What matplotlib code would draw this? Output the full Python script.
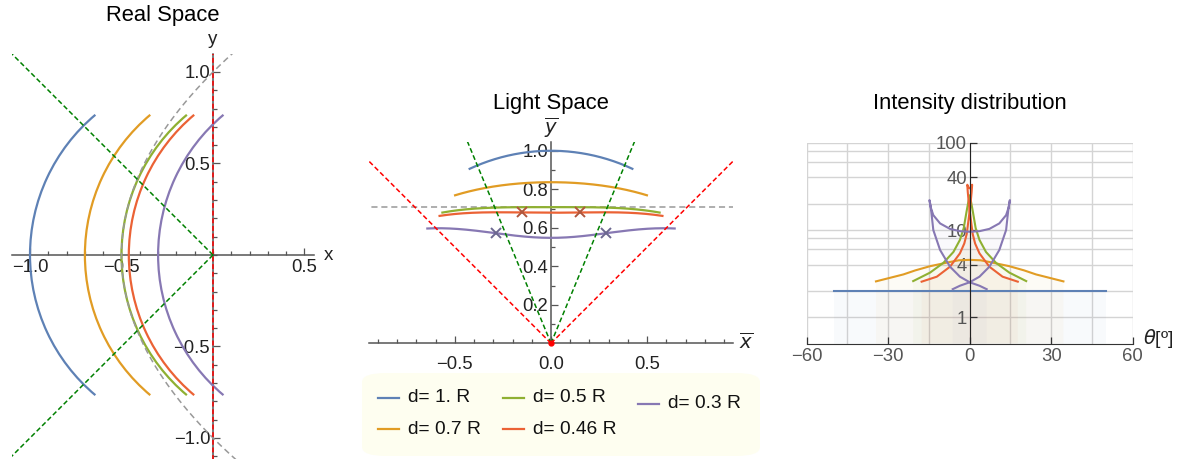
import numpy as np
import matplotlib.pyplot as plt
from matplotlib.patches import Arc, FancyBboxPatch
from matplotlib.lines import Line2D

plt.rcParams['font.family'] = ['Liberation Sans', 'DejaVu Sans']

W, H = 1178, 459

# mirror settings (legend)
d_values = [1.0, 0.7, 0.5, 0.46, 0.3]
labels = ["d= 1. R", "d= 0.7 R", "d= 0.5 R", "d= 0.46 R", "d= 0.3 R"]
colors = ["#5e81b5", "#e19c24", "#8fb032", "#eb6235", "#8778b3"]
R = 1.0
arc_half_deg = 50          # mirror arcs span +-50 deg
focal = 0.5                # gray dashed parabola (focus at origin)
ray_deg = 45               # green dashed rays, angle from -x axis
axis_ray_deg = 90          # red dashed line (the y axis)
mark_phi = {3: 12, 4: 19}  # x marks on light space curves (arc angle, deg)
mark_colors = {3: "#b0563c", 4: "#6c6890"}

# intensity distribution (theta in deg)
blue_theta = [-50, 50]
blue_I = [2.0, 2.0]
orange_half = [(0, 4.55), (4, 4.5), (7.3, 4.3), (14.6, 3.85), (20, 3.45),
               (24.4, 3.1), (30, 2.8), (34.5, 2.58)]
green_half = [(0, 25), (0.5, 21), (1.2, 16), (2.2, 10.5), (3.6, 7.7),
              (6, 5.6), (9.7, 4.2), (14.6, 3.25), (20.8, 2.6)]
red_path_half = [(17.7, 2.56), (12.1, 2.92), (7.25, 3.8), (3.6, 5.4), (2.0, 7.0),
                 (1.1, 9.0), (0.3, 14), (-0.3, 20), (-0.7, 27), (-0.9, 33),
                 (-0.5, 31), (0, 30)]
purple_path_half = [(6.25, 2.1), (3.6, 2.3), (0, 2.52), (-3.6, 2.92), (-7.25, 3.8),
                    (-10.9, 5.9), (-13.4, 10), (-14.2, 16.9), (-14.8, 22),
                    (-14.3, 18), (-13.4, 14.8), (-10.9, 11.9), (-7.25, 10.3),
                    (-3.6, 9.7), (0, 9.55)]
grid_I = [1, 2, 4, 6, 8, 10, 20, 40, 60, 80, 100]


def sym_curve(half):
    left = [(-t, v) for t, v in reversed(half[1:])]
    pts = left + half
    return [p[0] for p in pts], [p[1] for p in pts]


def sym_path(half):
    pts = half + [(-t, v) for t, v in reversed(half[:-1])]
    return [p[0] for p in pts], [p[1] for p in pts]


def to_light(x, y):
    w = 1j * np.sqrt(-(np.asarray(x) + 1j * np.asarray(y)))
    return w.real, w.imag


def arc_points(d, phi_deg):
    phi = np.radians(phi_deg)
    return (R - d) - R * np.cos(phi), R * np.sin(phi)


def px_axes(fig, x0, y0, x1, y1):
    return fig.add_axes([x0 / W, 1 - y1 / H, (x1 - x0) / W, (y1 - y0) / H])


def mma_axes(ax, axcol="#555555"):
    for s in ["top", "right"]:
        ax.spines[s].set_visible(False)
    ax.spines["left"].set_position(("data", 0))
    ax.spines["bottom"].set_position(("data", 0))
    for s in ["left", "bottom"]:
        ax.spines[s].set_color(axcol)
        ax.spines[s].set_linewidth(1.1)
        ax.spines[s].set_zorder(1)
    ax.tick_params(which="both", direction="in", color=axcol, width=0.9)
    ax.tick_params(which="major", length=5, labelsize=13.3, labelcolor="#222222")
    ax.tick_params(which="minor", length=3)
    ax.patch.set_alpha(0)


fig = plt.figure(figsize=(W / 100, H / 100), dpi=100)
phis = np.linspace(-arc_half_deg, arc_half_deg, 301)
ybar = np.linspace(-3, 3, 601)

# ---------------- Real space ----------------
ax1 = px_axes(fig, 11.7, 53.7, 313.65, 459.0)
ax1.set_xlim(-1.1, 0.55)
ax1.set_ylim(-1.115, 1.1)
mma_axes(ax1)
ax1.set_xticks([-1.0, -0.5, 0.5], ["\u22121.0", "\u22120.5", "0.5"])
ax1.set_xticks(np.arange(-1.0, 0.55, 0.1), minor=True)
ax1.set_yticks([-1.0, -0.5, 0.5, 1.0], ["\u22121.0", "\u22120.5", "0.5", "1.0"])
ax1.set_yticks(np.arange(-1.1, 1.1, 0.1), minor=True)
ax1.tick_params(axis="x", pad=3)
ax1.tick_params(axis="y", pad=2)

for d, c in zip(d_values, colors):
    ax1.add_patch(Arc((R - d, 0), 2 * R, 2 * R, theta1=180 - arc_half_deg,
                      theta2=180 + arc_half_deg, color=c, lw=1.6, zorder=3))
ax1.plot(ybar ** 2 / (4 * focal) - focal, ybar, color="#999999", lw=1.1,
         ls=(0, (4, 2.5)), zorder=4)
t = np.radians(ray_deg)
for sgn in [1, -1]:
    ax1.plot([0, -2 * np.cos(t)], [0, sgn * 2 * np.sin(t)], color="#008000",
             lw=1.1, ls=(0, (3.2, 1.8)), zorder=4)
ax1.plot([0, 0], [-1.2, 1.2], color="#ff0000", lw=1.1, ls=(0, (3.2, 1.8)), zorder=4)
fig.text(163 / W, 1 - 15 / H, "Real Space", fontsize=15.8, ha="center", va="center")
fig.text(213 / W, 1 - 39 / H, "y", fontsize=13.5, ha="center", va="center", color="#222222")
fig.text(328 / W, 1 - 256 / H, "x", fontsize=13.5, ha="center", va="center", color="#222222")

# ---------------- Light space ----------------
ax2 = px_axes(fig, 369.1, 141.9, 732.9, 343.3)
ax2.set_xlim(-0.945, 0.945)
ax2.set_ylim(0, 1.046)
mma_axes(ax2)
ax2.set_xticks([-0.5, 0.0, 0.5], ["\u22120.5", "0.0", "0.5"])
ax2.set_xticks(np.arange(-0.9, 0.95, 0.1), minor=True)
ax2.set_yticks([0.2, 0.4, 0.6, 0.8, 1.0], ["0.2", "0.4", "0.6", "0.8", "1.0"])
ax2.set_yticks(np.arange(0.1, 1.05, 0.1), minor=True)
ax2.tick_params(axis="x", pad=9)
ax2.tick_params(axis="y", pad=2)

for i, (d, c) in enumerate(zip(d_values, colors)):
    xs, ys = arc_points(d, phis)
    u, v = to_light(xs, ys)
    ax2.plot(u, v, color=c, lw=1.6, zorder=3)
    if i in mark_phi:
        xm, ym = arc_points(d, np.array([-mark_phi[i], mark_phi[i]]))
        um, vm = to_light(xm, ym)
        ax2.plot(um, vm, ls="none", marker="x", ms=6.5, mew=1.4,
                 color=mark_colors[i], zorder=5)
u, v = to_light(ybar ** 2 / (4 * focal) - focal, ybar)
ax2.plot(u, v, color="#999999", lw=1.1, ls=(0, (4, 2.5)), zorder=2)
for ang, col in [(ray_deg, "#008000"), (axis_ray_deg, "#ff0000")]:
    tt = np.radians(ang)
    for sgn in [1, -1]:
        u, v = to_light([0, -3 * np.cos(tt)], [0, sgn * 3 * np.sin(tt)])
        ax2.plot(u, v, color=col, lw=1.1, ls=(0, (3.2, 1.8)), zorder=4)
ax2.plot([0], [0], "o", color="#ff0000", ms=3.5, clip_on=False, zorder=6)
fig.text(551 / W, 1 - 103 / H, "Light Space", fontsize=15.8, ha="center", va="center")
fig.text(551 / W, 1 - 128 / H, r"$\overline{y}$", fontsize=14, ha="center",
         va="center", color="#222222")
fig.text(746 / W, 1 - 342 / H, r"$\overline{x}$", fontsize=14, ha="center",
         va="center", color="#222222")

# ---------------- Intensity ----------------
ax3 = px_axes(fig, 806.7, 142.7, 1132.7, 343.6)
ax3.set_yscale("log")
ax3.set_xlim(-60, 60)
ax3.set_ylim(0.5, 100)
for s in ["top", "right"]:
    ax3.spines[s].set_visible(False)
ax3.spines["left"].set_position(("data", 0))
ax3.spines["left"].set_color("#222222")
ax3.spines["bottom"].set_color("#333333")
ax3.spines["left"].set_zorder(4)
for gx in range(-60, 61, 15):
    ax3.axvline(gx, color="#d4d4d4", lw=1.0, zorder=0)
for gy in grid_I:
    ax3.axhline(gy, color="#d4d4d4", lw=1.0, zorder=0)
ax3.set_xticks([-60, -30, 0, 30, 60], ["\u221260", "\u221230", "0", "30", "60"])
ax3.set_yticks([1, 4, 10, 40, 100], ["1", "4", "10", "40", "100"])
ax3.yaxis.set_minor_locator(plt.NullLocator())
ax3.tick_params(which="major", direction="in", length=5, width=0.9, color="#333333",
                labelsize=13.3, labelcolor="#555555")
ax3.tick_params(axis="x", pad=3)
ax3.tick_params(axis="y", pad=2)

curves = [(blue_theta, blue_I), sym_curve(orange_half), sym_curve(green_half),
          sym_path(red_path_half), sym_path(purple_path_half)]
for (th, val), c in zip(curves, colors):
    fx = list(th) + [th[-1], th[0]]
    fy = list(val) + [0.5, 0.5]
    ax3.fill(fx, fy, color=c, alpha=0.04, lw=0, zorder=1)
for (th, val), c in zip(curves, colors):
    ax3.plot(th, val, color=c, lw=1.5, zorder=3)
fig.text(970 / W, 1 - 103 / H, "Intensity distribution", fontsize=15.8,
         ha="center", va="center")
fig.text(1143 / W, 1 - 339 / H, r"$\theta$[º]", fontsize=14, ha="left", va="center",
         color="#222222")

# ---------------- Legend ----------------
box = FancyBboxPatch((362 / W, 1 - 456 / H), 398 / W, 83 / H,
                     boxstyle="round,pad=0,rounding_size=0.02", transform=fig.transFigure,
                     facecolor="#fefef0", edgecolor="none")
fig.patches.append(box)
entries = [(0, 378, 398), (1, 378, 429), (2, 503, 398), (3, 503, 429), (4, 638, 404)]
for i, x0, y0 in entries:
    fig.lines.append(Line2D([x0 / W, (x0 + 21) / W], [1 - y0 / H, 1 - y0 / H],
                            transform=fig.transFigure, color=colors[i], lw=1.6))
    fig.text((x0 + 30) / W, 1 - y0 / H, labels[i], fontsize=13.8, ha="left",
             va="center", color="#111111")

fig.savefig("out.png", dpi=100)
